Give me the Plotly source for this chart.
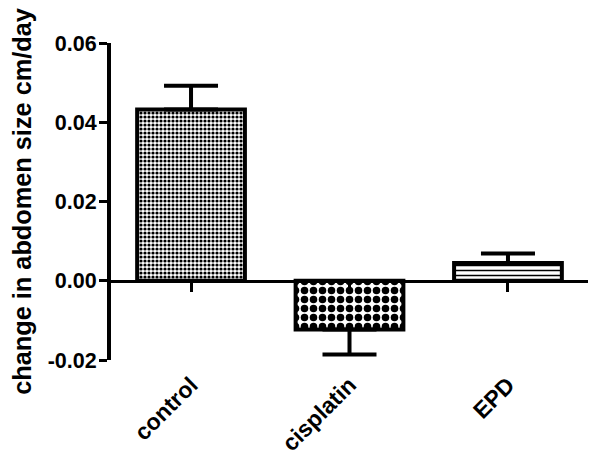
import plotly.graph_objects as go

categories = ["control", "cisplatin", "EPD"]
means = [0.0432, -0.0123, 0.0045]
err_plus = [0.0060, 0.0, 0.0024]
err_minus = [0.0, 0.0063, 0.0]
patterns = [".", ".", "-"]
pattern_sizes = [4, 9, 5]
pattern_solidity = [0.5, 0.55, 0.3]
y_ticks = [-0.02, 0.0, 0.02, 0.04, 0.06]
y_ticklabels = ["-0.02", "0.00", "0.02", "0.04", "0.06"]

FONT = "Arial, Liberation Sans, Helvetica, sans-serif"

fig = go.Figure()
fig.add_trace(go.Bar(
    x=categories, y=means, width=0.68,
    marker=dict(
        color="white",
        line=dict(color="black", width=4),
        pattern=dict(shape=patterns, size=pattern_sizes, solidity=pattern_solidity,
                     fgcolor="black", bgcolor="white", fgopacity=1),
    ),
    error_y=dict(type="data", symmetric=False, array=err_plus, arrayminus=err_minus,
                 color="black", thickness=4, width=27),
    showlegend=False,
))
# invisible trace on the second x axis so the zero-line axis is drawn
fig.add_trace(go.Scatter(x=categories, y=[0, 0, 0], xaxis="x2", mode="markers",
                         marker=dict(opacity=0), showlegend=False, hoverinfo="skip"))

# the page body has an 8px margin, so the figure is drawn 8px smaller and offset
fig.update_layout(
    width=592, height=450,
    margin=dict(l=103, r=12, t=35, b=98, autoexpand=False),
    paper_bgcolor="white", plot_bgcolor="white",
    font=dict(family=FONT, color="black", weight="bold"),
    xaxis=dict(
        range=[-0.505, 2.505], showline=False, ticks="", showgrid=False, zeroline=False,
        tickangle=-45, tickfont=dict(size=23, family=FONT, weight="bold"),
        ticklabelstandoff=6, automargin=False,
    ),
    xaxis2=dict(
        overlaying="x", matches="x", anchor="free", position=0.25, side="bottom",
        showline=True, linecolor="black", linewidth=3,
        ticks="outside", ticklen=9, tickwidth=3, tickcolor="black",
        showticklabels=False, showgrid=False, zeroline=False, automargin=False,
    ),
    yaxis=dict(
        range=[-0.02, 0.06], tickvals=y_ticks, ticktext=y_ticklabels,
        showline=True, linecolor="black", linewidth=4,
        ticks="outside", ticklen=8, tickwidth=3, tickcolor="black",
        showgrid=False, zeroline=False, automargin=False,
        tickfont=dict(size=21.5, family=FONT, weight="bold"), ticklabelstandoff=-2,
        title=dict(text="change in abdomen size cm/day",
                   font=dict(size=25.3, family=FONT, weight="bold"), standoff=10),
    ),
)

fig.write_html("out.html")
